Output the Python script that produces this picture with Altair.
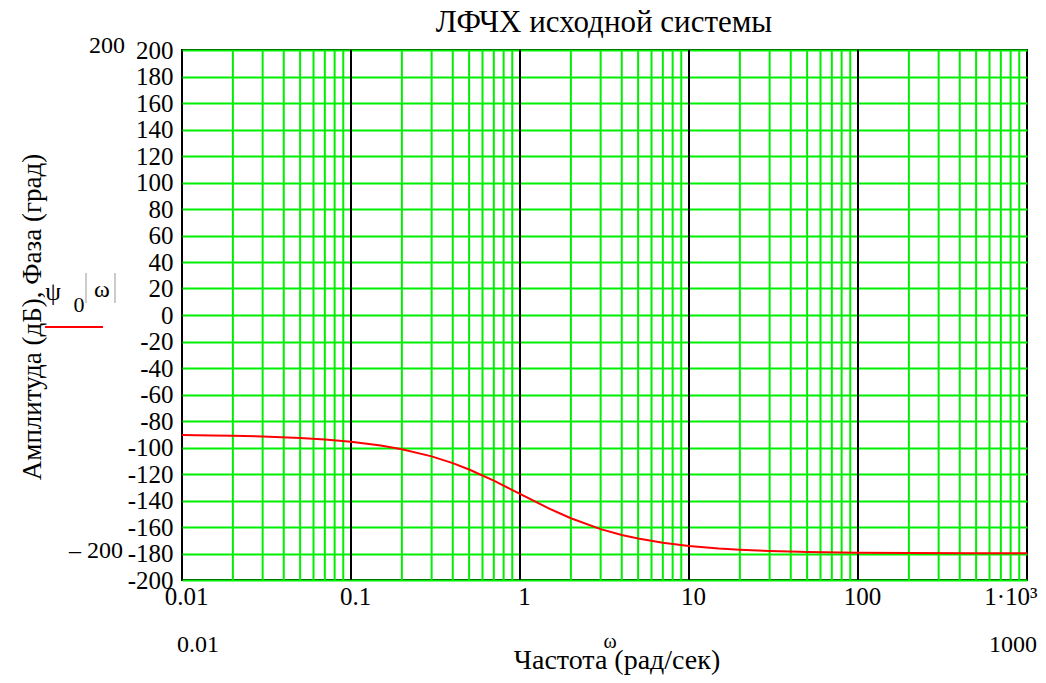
import altair as alt
import pandas as pd

# Phase curve (rad/s, degrees)
omega = [0.01, 0.015, 0.02, 0.03, 0.05, 0.07, 0.1, 0.15, 0.2, 0.3, 0.4, 0.5, 0.7,
         1.0, 1.5, 2.0, 3.0, 4.0, 5.0, 7.0, 10.0, 15.0, 20.0, 30.0, 45.0, 50.0,
         100.0, 200.0, 500.0, 1000.0]
phase = [-90.6, -90.9, -91.1, -91.7, -92.9, -94.0, -95.7, -98.5, -101.3, -106.7,
         -111.8, -116.6, -125.0, -135.0, -146.3, -153.4, -161.6, -166.0, -168.7,
         -171.9, -174.3, -176.2, -177.1, -178.1, -178.7, -178.9, -179.4, -179.7,
         -179.9, -179.9]

decades = [0.01, 0.1, 1, 10, 100, 1000]
minor = [m * d for d in [0.01, 0.1, 1, 10, 100] for m in range(2, 10)]
y_ticks = list(range(-200, 201, 20))

FONT = "Liberation Serif"
GREEN = "#00ee00"

df = pd.DataFrame({"w": omega, "p": phase})
xscale = alt.Scale(type="log", domain=[0.01, 1000], nice=False)
yscale = alt.Scale(domain=[-200, 200], nice=False, zero=False)

line = alt.Chart(df).mark_line(color="#ff0000", strokeWidth=2).encode(
    x=alt.X("w:Q", scale=xscale, axis=alt.Axis(
        values=decades, grid=False, ticks=False, domain=False, title=None,
        labelFont=FONT, labelFontSize=25, labelColor="black", labelPadding=4,
        labelFlush=False, labelOverlap=False,
        labelAlign={"condition": {"test": "datum.value >= 1000", "value": "right"}, "value": "center"},
        labelOffset={"condition": {"test": "datum.value >= 1000", "value": 10}, "value": 4},
        labelExpr="datum.value >= 1000 ? '1·10³' : toString(datum.value)")),
    y=alt.Y("p:Q", scale=yscale, axis=alt.Axis(
        values=y_ticks, grid=True, gridColor=GREEN, gridWidth=2, gridOpacity=1,
        ticks=False, domain=False, title=None, labelFont=FONT, labelFontSize=25,
        labelColor="black", labelPadding=9, labelFlush=False, labelOverlap=False,
        labelExpr="toString(datum.value)")),
)

green_rules = alt.Chart(pd.DataFrame({"w": minor})).mark_rule(
    color=GREEN, strokeWidth=2).encode(x=alt.X("w:Q", scale=xscale))
black_rules = alt.Chart(pd.DataFrame({"w": decades[1:-1]})).mark_rule(
    color="black", strokeWidth=2).encode(x=alt.X("w:Q", scale=xscale))

def txt(s, x, y, size=24, angle=0, align="center", baseline="alphabetic"):
    return alt.Chart(pd.DataFrame({"t": [s]})).mark_text(
        font=FONT, fontSize=size, angle=angle, align=align, baseline=baseline,
        color="black").encode(text="t:N", x=alt.value(x), y=alt.value(y))

texts = [
    txt("ЛФЧХ исходной системы", 422, -18, size=31),
    txt("Амплитуда (дБ), Фаза (град)", -149, 267, size=27, angle=270, baseline="middle"),
    txt("ψ", -129, 242, size=25, baseline="middle"),
    txt("0", -103, 255, size=22, baseline="middle"),
    txt("ω", -80, 240, size=24, baseline="middle"),
    txt("200", -75, 3, size=24),
    txt("– 200", -59, 508, size=24, align="right"),
    txt("0.01", 16, 602, size=24),
    txt("1000", 831, 602, size=24),
    txt("ω", 428, 598, size=20),
    txt("Частота (рад/сек)", 435, 619, size=28),
]

legend_line = alt.Chart(pd.DataFrame({"a": [0]})).mark_rule(
    color="#ff0000", strokeWidth=2).encode(
    x=alt.value(-137), x2=alt.value(-79), y=alt.value(277))
paren_l = alt.Chart(pd.DataFrame({"a": [0]})).mark_rule(
    color="#999999", strokeWidth=1).encode(
    x=alt.value(-96), y=alt.value(223), y2=alt.value(253))
paren_r = alt.Chart(pd.DataFrame({"a": [0]})).mark_rule(
    color="#999999", strokeWidth=1).encode(
    x=alt.value(-67), y=alt.value(223), y2=alt.value(253))

chart = alt.layer(green_rules, black_rules, line, legend_line, paren_l, paren_r,
                  *texts).properties(
    width=845, height=530,
    autosize=alt.AutoSizeParams(type="none"),
    padding={"left": 174, "top": 42, "right": 11, "bottom": 95},
    background="white",
).configure_view(stroke="black", strokeWidth=2)

chart.save("out.html", embed_options={"renderer": "svg", "actions": False})
